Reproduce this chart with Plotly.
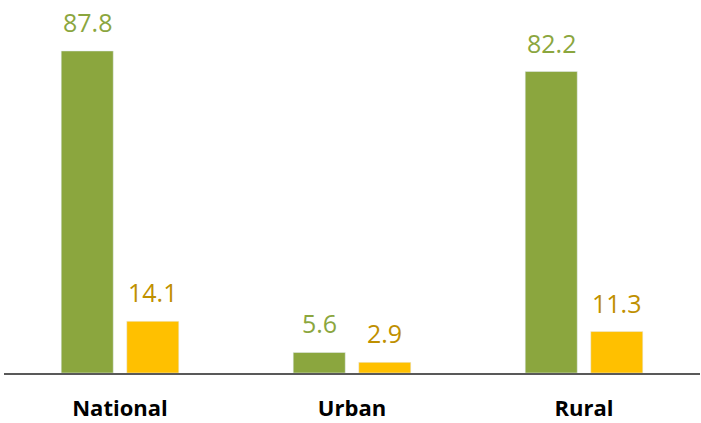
import plotly.graph_objects as go

categories = ["National", "Urban", "Rural"]
series_a = [87.8, 5.6, 82.2]
series_b = [14.1, 2.9, 11.3]

green = "#8BA63E"
yellow = "#FFC000"
green_text = "#8BA63E"
yellow_text = "#BF9000"

xs = list(range(len(categories)))
fig = go.Figure()
fig.add_trace(go.Bar(x=xs, y=series_a, marker_color=green, name="A", hoverinfo="skip"))
fig.add_trace(go.Bar(x=xs, y=series_b, marker_color=yellow, name="B", hoverinfo="skip"))

off = 0.1412
for i in xs:
    fig.add_annotation(x=i - off, y=series_a[i], text=f"{series_a[i]:.1f}", showarrow=False,
                       yanchor="bottom", yshift=10, font=dict(color=green_text, size=25))
    fig.add_annotation(x=i + off, y=series_b[i], text=f"{series_b[i]:.1f}", showarrow=False,
                       yanchor="bottom", yshift=10, font=dict(color=yellow_text, size=25))

fig.update_layout(
    width=701, height=423,
    margin=dict(l=4, r=1, t=0, b=50, autoexpand=False),
    paper_bgcolor="white", plot_bgcolor="white",
    barmode="group", bargap=0.435, bargroupgap=0.206,
    showlegend=False,
    font=dict(family="Open Sans, sans-serif"),
)
fig.update_xaxes(tickvals=xs, ticktext=[f"<b>{c}</b>" for c in categories],
                 range=[-0.5, 2.5], automargin=False, ticklabelstandoff=15,
                 tickfont=dict(size=22, color="black"),
                 showline=True, linecolor="#595959", linewidth=2, showgrid=False, ticks="")
fig.update_yaxes(range=[0, 101.7], visible=False, showgrid=False, automargin=False)

fig.write_html("out.html", config={"displayModeBar": False},
               post_script="document.body.style.margin='0';document.body.style.overflow='hidden';")
